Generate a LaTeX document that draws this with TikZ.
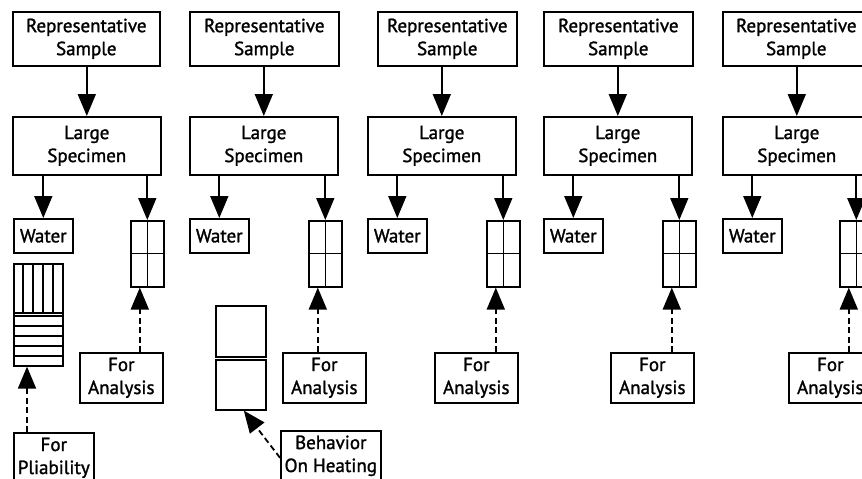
\documentclass[tikz,border=0pt]{standalone}
\usepackage{fontspec}
\newfontfamily\labelfont{PT Sans}[FakeBold=1.4]
\usetikzlibrary{arrows.meta}
\tikzset{
  sample box/.style={draw, line width=1.6pt, align=center, inner sep=0pt, anchor=north west, font=\labelfont\fontsize{19}{23}\selectfont},
  cell box/.style={draw, line width=1.6pt, inner sep=0pt, anchor=north west},
  cell line/.style={line width=1.2pt},
  flow/.style={line width=1.8pt, -{Triangle[length=22pt,width=18pt]}},
  flow dashed/.style={flow, dash pattern=on 6pt off 3.5pt},
}
\begin{document}
\begin{tikzpicture}[x=1pt, y=-1pt]
  \useasboundingbox (0,0) rectangle (862,479);
  \clip (0,0) rectangle (862,479);
  \foreach \c/\xa/\wa/\xl/\xw/\xg/\xf in {1/12/147/12/13/130/79, 2/189/149/189/189/308/282, 3/377/139/367/367/486/434, 4/543/149/543/543/662/610, 5/722/147/722/722/839/788}{
    \node[sample box, minimum width=\wa, minimum height=54] (rep\c) at (\xa,11) {Representative\\Sample};
    \node[sample box, minimum width=148, minimum height=58] (big\c) at (\xl,116) {Large\\Specimen};
    \node[sample box, minimum width=59, minimum height=34] (water\c) at (\xw,218) {Water};
    \node[cell box, minimum width=33, minimum height=66] (grid\c) at (\xg,220) {};
    \draw[cell line] (grid\c.north) -- (grid\c.south) (grid\c.west) -- (grid\c.east);
    \node[sample box, minimum width=83, minimum height=50] (ana\c) at (\xf,352) {For\\Analysis};
    \draw[flow] (rep\c.south -| big\c.north) -- (big\c.north);
    \draw[flow] (big\c.south -| water\c.north) -- (water\c.north);
    \draw[flow] (big\c.south -| grid\c.north) -- (grid\c.north);
    \coordinate (tip\c) at ([xshift=-7.5pt]grid\c.south);
    \draw[flow dashed] (ana\c.north -| tip\c) -- (tip\c);
  }
  \node[cell box, minimum width=49, minimum height=102] (strip) at (13,263) {};
  \foreach \x in {10,20,30,40}
    \draw[cell line] ([xshift=\x pt]strip.north west) -- ++(0,50);
  \draw[line width=2pt] ([yshift=-50pt]strip.north west) -- ([yshift=-50pt]strip.north east);
  \foreach \y in {53,63,73,83,93}
    \draw[cell line] ([yshift=-\y pt]strip.north west) -- ([yshift=-\y pt]strip.north east);
  \node[sample box, minimum width=80, minimum height=50] (pliab) at (13,432) {For\\Pliability};
  \coordinate (tipP) at ([xshift=14pt]strip.south west);
  \draw[flow dashed] (pliab.north -| tipP) -- (tipP);
  \node[cell box, minimum width=50, minimum height=51] (heatA) at (215,305) {};
  \node[cell box, minimum width=50, minimum height=50] (heatB) at (215,359) {};
  \node[sample box, minimum width=100, minimum height=50] (heat) at (280,430) {Behavior\\On Heating};
  \draw[flow dashed] ([yshift=-2pt]heat.west) -- ([xshift=3pt]heatB.south);
\end{tikzpicture}
\end{document}
